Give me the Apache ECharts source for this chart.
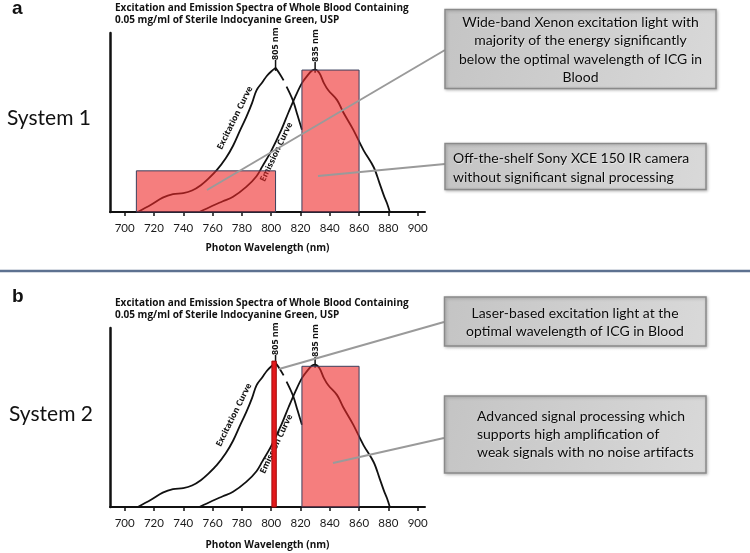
<!DOCTYPE html>
<html><head><meta charset="utf-8">
<script src="https://cdn.jsdelivr.net/npm/echarts@6/dist/echarts.min.js"></script>
<style>html,body{margin:0;padding:0;background:#fff}#c{width:750px;height:553px}</style>
</head><body><div id="c"></div>
<script>
// ---- data ----
const tickValues = [700, 720, 740, 760, 780, 800, 820, 840, 860, 880, 900];
const excitationRise = [[709,0],[718,4],[726,8],[733,10],[740,10.5],[746,12],[752,15],[757,18.5],[763,23.5],[769,30],[774,37],[779,46],[783,53],[787,61],[790,68],[794,72.5],[797,76],[800,78.5],[803,80.5]];
const excitationFallA = [[803,80.5],[806,77],[808.5,73.5]];
const excitationFallB = [[810.5,70],[815,62],[818,54],[821,46]];
const emission = [[751,0],[760,3.5],[767,6],[774,8.5],[783,14],[790,20],[794,25.5],[800,34],[807,46],[812,56],[816.5,64.5],[821,72],[825,76.5],[828,79],[830,79.5],[833,77.5],[836,72],[839,68],[845,62.5],[849,56],[856,46],[863,34.6],[870,25],[874,16],[877,9],[879,5],[881,0]];
const system1Bands = [[708, 803, 23], [821, 860, 79.3]];   // [from nm, to nm, height]
const system2Laser = [[800.5, 803.5, 81.5]];
const system2Camera = [[821, 860, 78.6]];
const peakMarks = [[803, 80.5, '805 nm'], [830, 79.5, '835 nm']];
const titleLines = ['Excitation and Emission Spectra of Whole Blood Containing', '0.05 mg/ml of Sterile Indocyanine Green, USP'];

const chart = echarts.init(document.getElementById('c'), null, {renderer: 'canvas'});
const FONT = 'Lato';
const TFONT = 'Open Sans';

function xAxisCfg(idx, gap) {
  return {
    type: 'value', gridIndex: idx, min: 690, max: 905,
    axisLine: {show: true, onZero: false, lineStyle: {color: '#111', width: 2}},
    axisTick: {show: true, customValues: tickValues, length: 4, lineStyle: {color: '#111', width: 1.5}},
    axisLabel: {customValues: tickValues, color: '#1a1a1a', fontSize: 11.5, fontFamily: FONT, margin: 10},
    splitLine: {show: false},
    name: 'Photon Wavelength (nm)', nameLocation: 'middle', nameGap: gap,
    nameTextStyle: {fontWeight: 'bold', fontSize: 10, fontFamily: TFONT, color: '#111'}
  };
}
function yAxisCfg(idx) {
  return {
    type: 'value', gridIndex: idx, min: 0, max: 100,
    axisLine: {show: true, lineStyle: {color: '#111', width: 2.5}},
    axisTick: {show: false}, axisLabel: {show: false}, splitLine: {show: false}
  };
}
function lineSeries(data, idx) {
  return {type: 'line', xAxisIndex: idx, yAxisIndex: idx, data: data, smooth: 0.35, symbol: 'none',
    lineStyle: {color: '#111', width: 1.8}, z: 2, silent: true, animation: false};
}
function rectSeries(data, idx, fill, stroke, z) {
  return {
    type: 'custom', xAxisIndex: idx, yAxisIndex: idx, data: data, z: z, silent: true, animation: false,
    encode: {x: [0, 1], y: 2},
    renderItem: function (params, api) {
      const p0 = api.coord([api.value(0), api.value(2)]);
      const p1 = api.coord([api.value(1), 0]);
      return {type: 'rect', shape: {x: p0[0], y: p0[1], width: p1[0] - p0[0], height: p1[1] - p0[1]},
        style: {fill: fill, stroke: stroke, lineWidth: 1}};
    }
  };
}
function peakSeries(idx) {
  return {
    type: 'custom', xAxisIndex: idx, yAxisIndex: idx, data: peakMarks, z: 3, silent: true, animation: false,
    encode: {x: 0, y: 1},
    renderItem: function (params, api) {
      const p = api.coord([api.value(0), api.value(1)]);
      return {type: 'group', children: [
        {type: 'line', shape: {x1: p[0], y1: p[1] - 8, x2: p[0], y2: p[1] + 3}, style: {stroke: '#111', lineWidth: 1.5}},
        {type: 'text', x: p[0], y: p[1] - 8, rotation: Math.PI / 2,
          style: {text: peakMarks[params.dataIndex][2], fontSize: 9, fontWeight: 'bold', fontFamily: TFONT, fill: '#111', align: 'left', verticalAlign: 'middle'}}
      ]};
    }
  };
}

const PINK = 'rgba(238,40,40,0.6)';
const EDGE = '#3b3f5c';

function panelSeries(idx) {
  return [lineSeries(excitationRise, idx), lineSeries(excitationFallA, idx), lineSeries(excitationFallB, idx), lineSeries(emission, idx), peakSeries(idx)];
}

const series = [].concat(
  panelSeries(0),
  [rectSeries(system1Bands, 0, PINK, EDGE, 5)],
  panelSeries(1),
  [rectSeries(system2Camera, 1, PINK, EDGE, 5), rectSeries(system2Laser, 1, '#e3191c', '#a00d0d', 6)]
);

function txt(x, y, s, o) {
  return Object.assign({type: 'text', x: x, y: y, z: 4,
    style: Object.assign({text: s, fill: '#111', fontFamily: FONT}, o)});
}
function rotTxt(x, y, s, deg) {
  return {type: 'text', x: x, y: y, rotation: deg * Math.PI / 180, z: 1, zlevel: 0,
    style: {text: s, fill: '#111', fontFamily: TFONT, fontWeight: 'bold', fontSize: 8.5, align: 'center', verticalAlign: 'middle'}};
}
function box(x, y, w, h) {
  return {type: 'rect', z: 20, shape: {x: x, y: y, width: w, height: h},
    style: {fill: new echarts.graphic.LinearGradient(0, 0, 1, 1, [{offset: 0, color: '#c4c4c4'}, {offset: 1, color: '#d9d9d9'}]),
      stroke: '#8a8a8a', lineWidth: 1.5, shadowBlur: 3, shadowColor: 'rgba(0,0,0,0.25)', shadowOffsetX: 1, shadowOffsetY: 1}};
}
function boxText(x, y, s, align) {
  return {type: 'text', z: 21, x: x, y: y,
    style: {text: s, fill: '#0a0a0a', fontFamily: FONT, fontSize: 14, lineHeight: 18.3, align: align, verticalAlign: 'middle',
      textShadowColor: 'rgba(255,255,255,0.6)', textShadowBlur: 1, textShadowOffsetX: 0.5, textShadowOffsetY: 0.5}};
}
function conn(x1, y1, x2, y2) {
  return {type: 'line', z: 19, shape: {x1: x1, y1: y1, x2: x2, y2: y2}, style: {stroke: '#9a9a9a', lineWidth: 2}};
}
const TSTYLE = {fontSize: 10, fontWeight: 'bold', fontFamily: TFONT, verticalAlign: 'middle'};

const graphics = [
  {type: 'line', z: 1, shape: {x1: 0, y1: 271, x2: 750, y2: 271}, style: {stroke: '#5d7190', lineWidth: 2.5}},
  txt(12, 9, 'a', {fontSize: 19, fontWeight: 'bold', fontFamily: 'Liberation Sans', verticalAlign: 'middle'}),
  txt(12, 297, 'b', {fontSize: 19, fontWeight: 'bold', fontFamily: 'Liberation Sans', verticalAlign: 'middle'}),
  txt(115, 8.5, titleLines[0], TSTYLE),
  txt(115, 20, titleLines[1], TSTYLE),
  txt(115, 303.5, titleLines[0], TSTYLE),
  txt(115, 315, titleLines[1], TSTYLE),
  txt(7, 118, 'System 1', {fontSize: 21, verticalAlign: 'middle'}),
  txt(9, 414, 'System 2', {fontSize: 21, verticalAlign: 'middle'}),
  rotTxt(235, 118, 'Excitation Curve', 63.5),
  rotTxt(276.5, 152, 'Emission Curve', 64.5),
  rotTxt(234, 415, 'Excitation Curve', 63.5),
  rotTxt(276.5, 444, 'Emission Curve', 64.5),
  conn(207, 190, 445, 50),
  conn(318, 176, 445, 164),
  conn(279, 369, 444, 322),
  conn(333, 463, 444, 438),
  box(445, 9.5, 271, 79),
  boxText(580.5, 50, 'Wide-band Xenon excitation light with\nmajority of the energy significantly\nbelow the optimal wavelength of ICG in\nBlood', 'center'),
  box(445, 143.5, 261, 46),
  boxText(453, 168, 'Off-the-shelf Sony XCE 150 IR camera\nwithout significant signal processing', 'left'),
  box(444.5, 297, 261.5, 49),
  boxText(575, 322.5, 'Laser-based excitation light at the\noptimal wavelength of ICG in Blood', 'center'),
  box(444.5, 396, 261.5, 77),
  boxText(477, 434.5, 'Advanced signal processing which\nsupports high amplification of\nweak signals with no noise artifacts', 'left')
];

chart.setOption({
  animation: false,
  backgroundColor: '#ffffff',
  grid: [
    {left: 110, top: 33, width: 315, height: 179, containLabel: false},
    {left: 110, top: 328, width: 315, height: 179, containLabel: false}
  ],
  xAxis: [xAxisCfg(0, 31), xAxisCfg(1, 33)],
  yAxis: [yAxisCfg(0), yAxisCfg(1)],
  series: series,
  graphic: graphics
});
</script></body></html>
